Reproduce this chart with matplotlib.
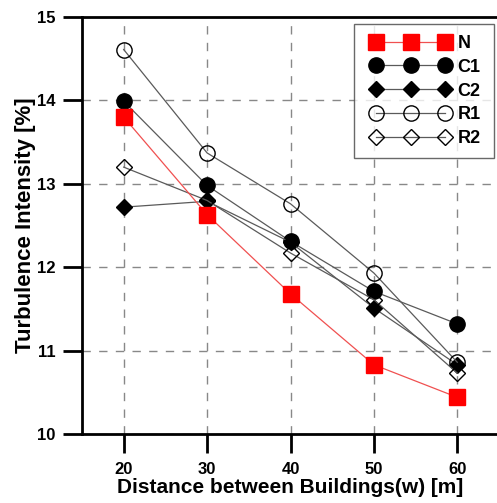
import matplotlib
matplotlib.use("Agg")
import matplotlib.pyplot as plt
from matplotlib.lines import Line2D
from matplotlib.legend_handler import HandlerLine2D

plt.rcParams['font.family'] = ['Liberation Sans', 'DejaVu Sans']
plt.rcParams['font.weight'] = 'bold'

distance = [20, 30, 40, 50, 60]
N = [13.80, 12.63, 11.68, 10.83, 10.44]
C1 = [13.99, 12.98, 12.31, 11.71, 11.32]
C2 = [12.72, 12.79, 12.30, 11.51, 10.83]
R1 = [14.61, 13.37, 12.76, 11.93, 10.86]
R2 = [13.20, 12.80, 12.17, 11.61, 10.73]
series_names = ['N', 'C1', 'C2', 'R1', 'R2']

W, H = 497, 503
fig = plt.figure(figsize=(W / 100, H / 100), dpi=100)
ax = fig.add_axes([82 / W, (H - 434) / H, 417 / W, (434 - 17) / H])

line_col = '#5a5a5a'
ax.plot(distance, N, color='#f05050', lw=0.9, marker='s', ms=11,
        mfc='red', mec='red', label=series_names[0], zorder=5)
ax.plot(distance, C1, color=line_col, lw=0.9, marker='o', ms=11,
        mfc='black', mec='black', label=series_names[1], zorder=4)
ax.plot(distance, C2, color=line_col, lw=0.9, marker='D', ms=8.3,
        mfc='black', mec='black', label=series_names[2], zorder=4)
ax.plot(distance, R1, color=line_col, lw=0.9, marker='o', ms=11,
        mfc='none', mec='black', mew=1.0, label=series_names[3], zorder=4)
ax.plot(distance, R2, color=line_col, lw=0.9, marker='D', ms=8.3,
        mfc='none', mec='black', mew=1.0, label=series_names[4], zorder=4)

ax.set_xlim(15, 65)
ax.set_ylim(10, 15)
ax.set_xticks([20, 30, 40, 50, 60])
ax.set_yticks([10, 11, 12, 13, 14, 15])
ax.grid(True, color='#888888', linestyle=(0, (6, 6)), lw=1.0)
ax.set_axisbelow(True)

for s in ['left', 'bottom', 'top']:
    ax.spines[s].set_linewidth(2)
ax.spines['right'].set_visible(False)
ax.tick_params(direction='out', length=14, width=2, labelsize=12)
ax.tick_params(axis='x', pad=6)
ax.tick_params(axis='y', pad=5)
for lbl in ax.get_xticklabels() + ax.get_yticklabels():
    lbl.set_fontweight('bold')

ax.set_xlabel('Distance between Buildings(w) [m]', fontsize=15, fontweight='bold', labelpad=1)
ax.set_ylabel('Turbulence Intensity [%]', fontsize=16, fontweight='bold', labelpad=1)

x0 = (354 - 82) / 417
wl = 140 / 417
ytop = 1 - 7 / 417
leg = ax.legend(loc='upper left', bbox_to_anchor=(x0, 0, wl, ytop), mode='expand',
                numpoints=3, fancybox=False, frameon=True, edgecolor='#444444',
                prop={'weight': 'bold', 'size': 13}, handlelength=5.08,
                handletextpad=0.05, borderpad=0.6, labelspacing=0.38, borderaxespad=0,
                handler_map={Line2D: HandlerLine2D(marker_pad=0.63)})
leg.get_frame().set_linewidth(1.0)

fig.savefig('out.png', dpi=100)
